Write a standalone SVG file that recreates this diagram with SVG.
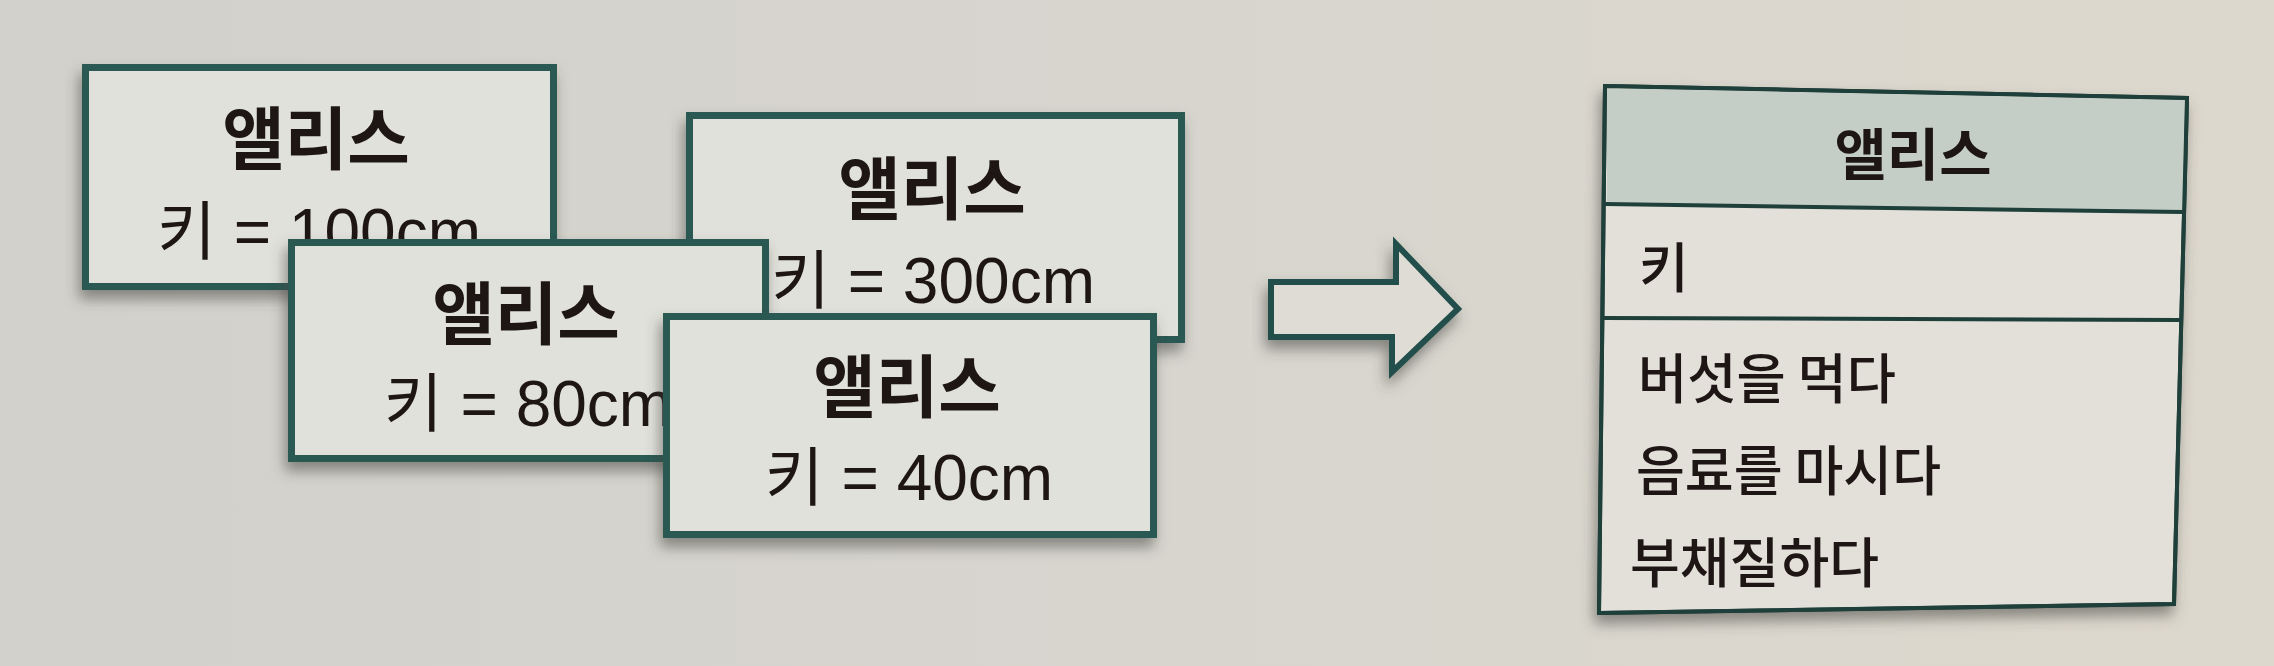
<svg xmlns="http://www.w3.org/2000/svg" width="2274" height="666" viewBox="0 0 2274 666">
  <defs>
    <linearGradient id="bg" x1="0" y1="0" x2="1" y2="0">
      <stop offset="0" stop-color="#d2d1cb"/>
      <stop offset="0.5" stop-color="#d7d5ce"/>
      <stop offset="1" stop-color="#ddd8cd"/>
    </linearGradient>
    <filter id="sh" x="-10%" y="-10%" width="125%" height="140%">
      <feDropShadow dx="-3" dy="9" stdDeviation="7" flood-color="#45453f" flood-opacity="0.55"/>
    </filter>
    <style>
      .card { fill: #e1e1db; stroke: #2c5853; stroke-width: 7; stroke-linejoin: miter; }
      .title { font-family: "Noto Sans CJK KR", "Liberation Sans", sans-serif; font-weight: 700; font-size: 68px; fill: #1e1614; text-anchor: middle; }
      .sub { font-family: "Liberation Sans", "Noto Sans CJK KR", sans-serif; font-weight: 400; font-size: 64px; fill: #1e1614; text-anchor: middle; }
      .cls { fill: #e2e0d8; stroke: #1f3f3b; stroke-width: 4; stroke-linejoin: miter; }
      .hdr { fill: #c5cec6; stroke: none; }
      .div { stroke: #1f3f3b; stroke-width: 4; fill: none; }
      .ctitle { font-family: "Noto Sans CJK KR", sans-serif; font-weight: 700; font-size: 56px; fill: #1e1614; text-anchor: middle; }
      .ctext { font-family: "Noto Sans CJK KR", sans-serif; font-weight: 500; font-size: 54px; fill: #1e1614; }
      .arrow { fill: #dedcd5; stroke: #23504b; stroke-width: 6; stroke-linejoin: miter; }
    </style>
  </defs>

  <rect x="0" y="0" width="2274" height="666" fill="url(#bg)"/>

  <g id="node-alice-100">
    <rect class="card" x="85.5" y="67.5" width="468" height="219" filter="url(#sh)"/>
    <text class="title" x="316" y="164">앨리스</text>
    <text class="sub" x="319" y="254">키 = 100cm</text>
  </g>

  <g id="node-alice-300">
    <rect class="card" x="689.5" y="115.5" width="492" height="224" filter="url(#sh)"/>
    <text class="title" x="932" y="214">앨리스</text>
    <text class="sub" x="933" y="303">키 = 300cm</text>
  </g>

  <g id="node-alice-80">
    <rect class="card" x="291.5" y="242.5" width="474" height="216" filter="url(#sh)"/>
    <text class="title" x="526" y="339">앨리스</text>
    <text class="sub" x="528" y="426">키 = 80cm</text>
  </g>

  <g id="node-alice-40">
    <rect class="card" x="666.5" y="316.5" width="487" height="218" filter="url(#sh)"/>
    <text class="title" x="907" y="412">앨리스</text>
    <text class="sub" x="909" y="500">키 = 40cm</text>
  </g>

  <g id="connectors">
    <polygon class="arrow" points="1271,282 1396,282 1396,244 1458,309 1392,372 1392,337 1271,337" filter="url(#sh)"/>
  </g>

  <g id="node-alice-class">
    <polygon class="cls" points="1605,86 2187,98 2174,604 1599,613" filter="url(#sh)"/>
    <polygon class="hdr" points="1607,88 2185,100 2183,211 1607,204"/>
    <polygon points="1605,86 2187,98 2174,604 1599,613" fill="none" stroke="#1f3f3b" stroke-width="4"/>
    <line class="div" x1="1605" y1="204" x2="2183" y2="212"/>
    <line class="div" x1="1603" y1="318" x2="2180" y2="320"/>
    <text class="ctitle" x="1913" y="175" textLength="157" lengthAdjust="spacingAndGlyphs">앨리스</text>
    <text class="ctext" x="1639" y="288">키</text>
    <text class="ctext" x="1638" y="399" textLength="258" lengthAdjust="spacingAndGlyphs">버섯을 먹다</text>
    <text class="ctext" x="1636" y="491" textLength="305" lengthAdjust="spacingAndGlyphs">음료를 마시다</text>
    <text class="ctext" x="1630" y="583" textLength="249" lengthAdjust="spacingAndGlyphs">부채질하다</text>
  </g>
</svg>
